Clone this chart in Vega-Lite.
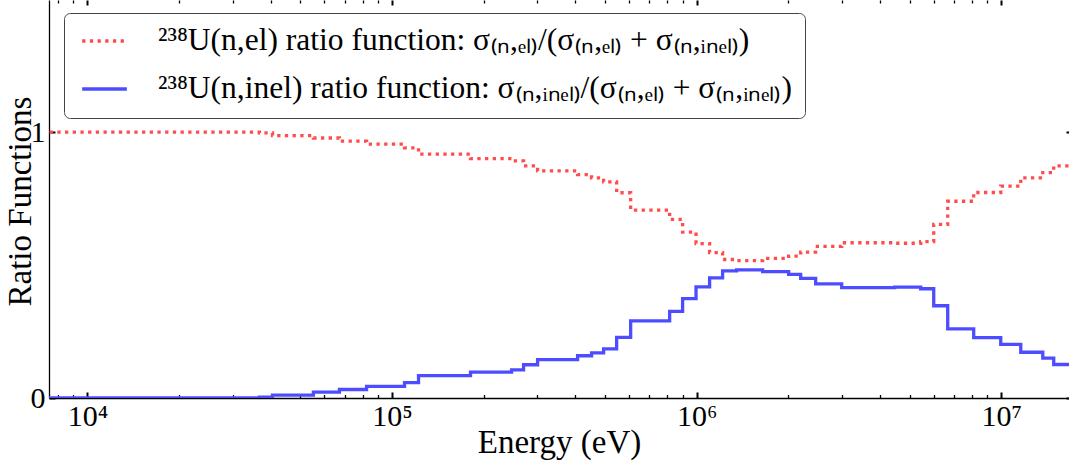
{
  "$schema": "https://vega.github.io/schema/vega-lite/v6.json",
  "width": 1020,
  "height": 398,
  "autosize": {"type": "none"},
  "padding": {"left": 49, "top": 0, "right": 0, "bottom": 68},
  "background": "white",
  "config": {
    "view": {"stroke": null},
    "font": "Liberation Serif",
    "axis": {"grid": false, "domainColor": "black", "tickColor": "black", "labelColor": "black", "titleColor": "black", "labelFont": "Liberation Serif", "titleFont": "Liberation Serif", "titleFontWeight": "normal"},
    "legend": {"labelFont": "Liberation Serif"}
  },
  "data": {"values": [
    {"E": 5000, "s": "el", "r": 1.0},
    {"E": 36700, "s": "el", "r": 0.997},
    {"E": 40520, "s": "el", "r": 0.987},
    {"E": 55200, "s": "el", "r": 0.978},
    {"E": 67200, "s": "el", "r": 0.966},
    {"E": 82500, "s": "el", "r": 0.955},
    {"E": 109900, "s": "el", "r": 0.941},
    {"E": 122200, "s": "el", "r": 0.917},
    {"E": 181000, "s": "el", "r": 0.900},
    {"E": 246900, "s": "el", "r": 0.892},
    {"E": 270300, "s": "el", "r": 0.873},
    {"E": 300500, "s": "el", "r": 0.854},
    {"E": 406600, "s": "el", "r": 0.840},
    {"E": 452000, "s": "el", "r": 0.828},
    {"E": 495000, "s": "el", "r": 0.813},
    {"E": 546300, "s": "el", "r": 0.772},
    {"E": 607300, "s": "el", "r": 0.707},
    {"E": 815500, "s": "el", "r": 0.672},
    {"E": 899500, "s": "el", "r": 0.624},
    {"E": 995500, "s": "el", "r": 0.581},
    {"E": 1103000, "s": "el", "r": 0.547},
    {"E": 1217000, "s": "el", "r": 0.521},
    {"E": 1353000, "s": "el", "r": 0.517},
    {"E": 1647000, "s": "el", "r": 0.525},
    {"E": 2005000, "s": "el", "r": 0.534},
    {"E": 2196000, "s": "el", "r": 0.549},
    {"E": 2459000, "s": "el", "r": 0.570},
    {"E": 2994000, "s": "el", "r": 0.584},
    {"E": 4468000, "s": "el", "r": 0.582},
    {"E": 5440000, "s": "el", "r": 0.588},
    {"E": 6003000, "s": "el", "r": 0.653},
    {"E": 6672000, "s": "el", "r": 0.740},
    {"E": 8121000, "s": "el", "r": 0.773},
    {"E": 9963000, "s": "el", "r": 0.797},
    {"E": 11590000, "s": "el", "r": 0.828},
    {"E": 13690000, "s": "el", "r": 0.848},
    {"E": 14870000, "s": "el", "r": 0.873},
    {"E": 20000000, "s": "el", "r": 0.873},
    {"E": 5000, "s": "inel", "r": 0.0},
    {"E": 36700, "s": "inel", "r": 0.003},
    {"E": 40520, "s": "inel", "r": 0.011},
    {"E": 55200, "s": "inel", "r": 0.022},
    {"E": 67200, "s": "inel", "r": 0.032},
    {"E": 82500, "s": "inel", "r": 0.044},
    {"E": 109900, "s": "inel", "r": 0.058},
    {"E": 122200, "s": "inel", "r": 0.084},
    {"E": 181000, "s": "inel", "r": 0.097},
    {"E": 246900, "s": "inel", "r": 0.106},
    {"E": 270300, "s": "inel", "r": 0.125},
    {"E": 300500, "s": "inel", "r": 0.144},
    {"E": 406600, "s": "inel", "r": 0.159},
    {"E": 452000, "s": "inel", "r": 0.170},
    {"E": 495000, "s": "inel", "r": 0.185},
    {"E": 546300, "s": "inel", "r": 0.228},
    {"E": 607300, "s": "inel", "r": 0.290},
    {"E": 815500, "s": "inel", "r": 0.326},
    {"E": 899500, "s": "inel", "r": 0.374},
    {"E": 995500, "s": "inel", "r": 0.418},
    {"E": 1103000, "s": "inel", "r": 0.452},
    {"E": 1217000, "s": "inel", "r": 0.478},
    {"E": 1353000, "s": "inel", "r": 0.482},
    {"E": 1647000, "s": "inel", "r": 0.475},
    {"E": 2005000, "s": "inel", "r": 0.465},
    {"E": 2196000, "s": "inel", "r": 0.450},
    {"E": 2459000, "s": "inel", "r": 0.429},
    {"E": 2994000, "s": "inel", "r": 0.415},
    {"E": 4468000, "s": "inel", "r": 0.417},
    {"E": 5440000, "s": "inel", "r": 0.411},
    {"E": 6003000, "s": "inel", "r": 0.347},
    {"E": 6672000, "s": "inel", "r": 0.260},
    {"E": 8121000, "s": "inel", "r": 0.227},
    {"E": 9963000, "s": "inel", "r": 0.202},
    {"E": 11590000, "s": "inel", "r": 0.172},
    {"E": 13690000, "s": "inel", "r": 0.150},
    {"E": 14870000, "s": "inel", "r": 0.126},
    {"E": 20000000, "s": "inel", "r": 0.126}
  ]},
  "layer": [
    {
      "mark": {"type": "line", "interpolate": "step-after", "strokeWidth": 3.3, "clip": true, "strokeCap": "butt"},
      "encoding": {
        "x": {"field": "E", "type": "quantitative",
          "scale": {"type": "log", "domain": [7480, 16690000], "nice": false},
          "axis": {"orient": "bottom", "values": [10000, 100000, 1000000, 10000000], "tickSize": -6, "tickWidth": 2,
            "labelExpr": "datum.value == 10000 ? '10⁴' : datum.value == 100000 ? '10⁵' : datum.value == 1000000 ? '10⁶' : '10⁷'",
            "labelFont": "Liberation Serif", "labelFontSize": 30, "labelBaseline": "alphabetic", "labelPadding": 33, "labelFlush": false, "labelOverlap": false,
            "domainWidth": 1.3, "title": "Energy (eV)", "titleFont": "Liberation Serif", "titleFontWeight": "normal", "titleFontSize": 33, "titleBaseline": "alphabetic", "titleY": 54}},
        "y": {"field": "r", "type": "quantitative",
          "scale": {"domain": [0, 1.497], "nice": false, "zero": false},
          "axis": {"orient": "left", "values": [0, 1], "tickSize": -6, "tickWidth": 2, "labelFont": "Liberation Serif", "labelFontSize": 30, "labelPadding": 10,
            "domainWidth": 1.3, "title": "Ratio Functions", "titleFont": "Liberation Serif", "titleFontWeight": "normal", "titleFontSize": 33, "titleBaseline": "alphabetic", "titleX": -19, "titleY": 201}},
        "color": {"field": "s", "type": "nominal",
          "scale": {"domain": ["el", "inel"], "range": ["#ff4d4d", "#4d4dff"]},
          "legend": {"title": null, "orient": "none", "legendX": 15, "legendY": 13, "symbolType": "stroke", "symbolSize": 2000, "symbolStrokeWidth": 3.3,
            "labelFont": "Liberation Serif", "labelFontSize": 31.5, "labelColor": "black", "labelLimit": 0, "labelOffset": 29, "symbolOffset": 3,
            "clipHeight": 30, "rowPadding": 16, "padding": 13, "fillColor": "white", "strokeColor": "#444444", "cornerRadius": 6,
            "labelExpr": "datum.label == 'el' ? '²³⁸U(n,el) ratio function: σ₍ₙ,ₑₗ₎/(σ₍ₙ,ₑₗ₎ + σ₍ₙ,ᵢₙₑₗ₎)' : '²³⁸U(n,inel) ratio function: σ₍ₙ,ᵢₙₑₗ₎/(σ₍ₙ,ₑₗ₎ + σ₍ₙ,ᵢₙₑₗ₎)'"}},
        "strokeDash": {"field": "s", "type": "nominal",
          "scale": {"domain": ["el", "inel"], "range": [[3.3, 4.4], [1, 0]]},
          "legend": {"title": null, "orient": "none", "legendX": 15, "legendY": 13, "symbolType": "stroke", "symbolSize": 2000, "symbolStrokeWidth": 3.3,
            "labelFont": "Liberation Serif", "labelFontSize": 31.5, "labelColor": "black", "labelLimit": 0, "labelOffset": 29, "symbolOffset": 3,
            "clipHeight": 30, "rowPadding": 16, "padding": 13, "fillColor": "white", "strokeColor": "#444444", "cornerRadius": 6,
            "labelExpr": "datum.label == 'el' ? '²³⁸U(n,el) ratio function: σ₍ₙ,ₑₗ₎/(σ₍ₙ,ₑₗ₎ + σ₍ₙ,ᵢₙₑₗ₎)' : '²³⁸U(n,inel) ratio function: σ₍ₙ,ᵢₙₑₗ₎/(σ₍ₙ,ₑₗ₎ + σ₍ₙ,ᵢₙₑₗ₎)'"}}
      }
    },
    {
      "mark": {"type": "line", "opacity": 0},
      "encoding": {
        "x": {"field": "E", "type": "quantitative",
          "axis": {"orient": "bottom", "values": [8000, 9000, 20000, 30000, 40000, 50000, 60000, 70000, 80000, 90000, 200000, 300000, 400000, 500000, 600000, 700000, 800000, 900000, 2000000, 3000000, 4000000, 5000000, 6000000, 7000000, 8000000, 9000000],
            "tickSize": -3.5, "tickWidth": 1.3, "labels": false, "domain": false, "title": null}},
        "y": {"field": "r", "type": "quantitative",
          "axis": {"orient": "right", "values": [0, 1], "tickSize": -3, "tickWidth": 2, "labels": false, "domain": false, "title": null}}
      }
    },
    {
      "mark": {"type": "line", "opacity": 0},
      "encoding": {
        "x": {"field": "E", "type": "quantitative",
          "axis": {"orient": "top", "values": [10000, 100000, 1000000, 10000000], "tickSize": -5, "tickWidth": 2, "labels": false, "domain": false, "title": null}},
        "y": {"field": "r", "type": "quantitative", "axis": null}
      }
    },
    {
      "mark": {"type": "line", "opacity": 0},
      "encoding": {
        "x": {"field": "E", "type": "quantitative",
          "axis": {"orient": "top", "values": [8000, 9000, 20000, 30000, 40000, 50000, 60000, 70000, 80000, 90000, 200000, 300000, 400000, 500000, 600000, 700000, 800000, 900000, 2000000, 3000000, 4000000, 5000000, 6000000, 7000000, 8000000, 9000000],
            "tickSize": -3, "tickWidth": 1.3, "labels": false, "domain": false, "title": null}},
        "y": {"field": "r", "type": "quantitative", "axis": null}
      }
    }
  ],
  "resolve": {"axis": {"x": "independent", "y": "independent"}}
}
